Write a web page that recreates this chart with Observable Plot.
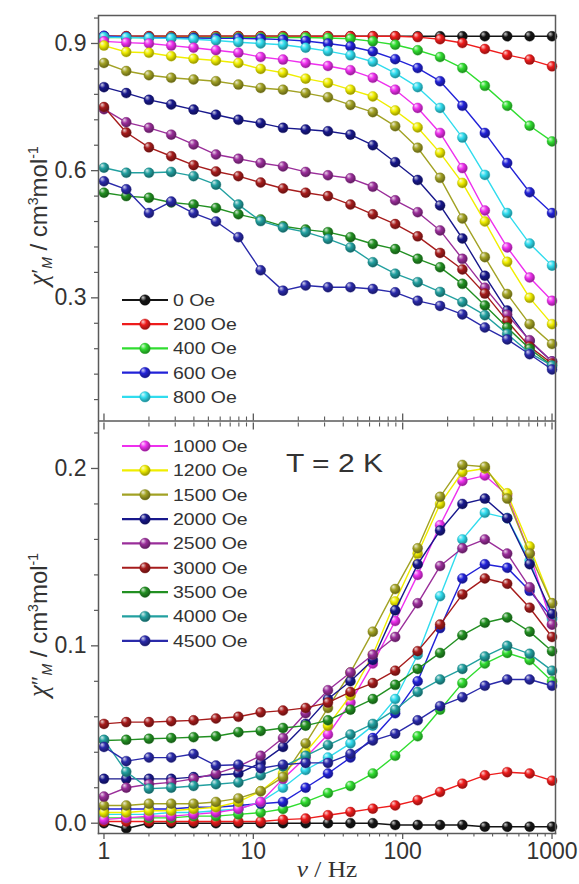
<!DOCTYPE html>
<html>
<head>
<meta charset="utf-8">
<script src="https://cdn.jsdelivr.net/npm/d3@7"></script>
<script src="https://cdn.jsdelivr.net/npm/@observablehq/plot@0.6"></script>
<style>
html,body{margin:0;padding:0;background:#fff;}
#chart{width:579px;height:884px;position:relative;}
#chart svg{display:block;}
</style>
</head>
<body>
<svg id="defs" width="0" height="0" style="position:absolute;left:0;top:0"></svg>
<div id="chart"></div>
<script>
// ---------- data ----------
const freq = [1, 1.41, 2.0, 2.82, 3.98, 5.62, 7.94, 11.2, 15.8, 22.4, 31.6, 44.7, 63.1, 89.1, 126, 178, 251, 355, 501, 708, 1000];
const fields = ["0 Oe", "200 Oe", "400 Oe", "600 Oe", "800 Oe", "1000 Oe", "1200 Oe", "1500 Oe", "2000 Oe", "2500 Oe", "3000 Oe", "3500 Oe", "4000 Oe", "4500 Oe"];
const colors = ["#151515", "#ee1c1c", "#30dd30", "#2222d8", "#30dcee", "#ee30ee", "#f0ee00", "#a2a224", "#18188c", "#9a2e9a", "#a61c1c", "#229022", "#22a0a0", "#2a2aaa"];

// chi' (top panel)
const re0    = [0.917,0.917,0.917,0.917,0.917,0.917,0.917,0.917,0.917,0.917,0.917,0.917,0.917,0.917,0.917,0.917,0.917,0.917,0.917,0.917,0.917];
const re200  = [0.917,0.917,0.917,0.917,0.917,0.917,0.917,0.917,0.917,0.917,0.917,0.917,0.917,0.917,0.915,0.910,0.901,0.887,0.873,0.862,0.846];
const re400  = [0.914,0.914,0.914,0.914,0.914,0.914,0.914,0.914,0.914,0.914,0.913,0.911,0.905,0.897,0.884,0.868,0.842,0.800,0.753,0.706,0.669];
const re600  = [0.918,0.915,0.914,0.913,0.913,0.912,0.912,0.911,0.909,0.906,0.900,0.893,0.881,0.863,0.842,0.811,0.753,0.689,0.618,0.549,0.500];
const re800  = [0.915,0.914,0.913,0.912,0.910,0.907,0.903,0.900,0.897,0.890,0.882,0.872,0.857,0.830,0.797,0.748,0.678,0.590,0.500,0.428,0.376];
const re1000 = [0.905,0.902,0.900,0.895,0.890,0.884,0.878,0.868,0.862,0.854,0.847,0.837,0.819,0.791,0.748,0.689,0.606,0.506,0.419,0.348,0.293];
const re1200 = [0.895,0.880,0.878,0.870,0.864,0.860,0.854,0.840,0.831,0.817,0.807,0.791,0.775,0.742,0.702,0.642,0.571,0.480,0.385,0.300,0.238];
const re1500 = [0.854,0.835,0.825,0.819,0.815,0.811,0.803,0.795,0.791,0.783,0.773,0.755,0.738,0.705,0.654,0.583,0.487,0.396,0.309,0.238,0.191];
const re2000 = [0.797,0.783,0.767,0.756,0.744,0.732,0.720,0.712,0.701,0.697,0.693,0.685,0.660,0.620,0.578,0.518,0.440,0.352,0.270,0.198,0.150];
const re2500 = [0.745,0.714,0.701,0.685,0.662,0.638,0.628,0.618,0.610,0.597,0.589,0.582,0.562,0.530,0.502,0.459,0.392,0.324,0.260,0.200,0.150];
const re3000 = [0.750,0.690,0.655,0.634,0.613,0.598,0.587,0.572,0.558,0.548,0.540,0.520,0.497,0.474,0.445,0.406,0.367,0.310,0.245,0.185,0.145];
const re3500 = [0.548,0.540,0.536,0.525,0.520,0.512,0.497,0.485,0.469,0.461,0.455,0.443,0.427,0.415,0.392,0.372,0.333,0.282,0.230,0.180,0.140];
const re4000 = [0.607,0.595,0.595,0.597,0.587,0.567,0.520,0.481,0.466,0.455,0.439,0.419,0.384,0.357,0.337,0.314,0.290,0.259,0.215,0.170,0.140];
const re4500 = [0.575,0.556,0.500,0.527,0.500,0.480,0.443,0.365,0.317,0.329,0.325,0.325,0.321,0.313,0.293,0.281,0.261,0.230,0.202,0.167,0.131];

// chi'' (bottom panel)
const im0    = [0.000,-0.003,0.000,0.000,0.000,0.000,0.000,0.000,0.000,0.000,0.000,0.000,0.000,-0.001,-0.001,-0.001,-0.001,-0.002,-0.002,-0.002,-0.002];
const im200  = [0.001,0.001,0.001,0.001,0.001,0.001,0.001,0.001,0.002,0.0026,0.0045,0.0063,0.0082,0.010,0.013,0.0176,0.0223,0.027,0.0288,0.028,0.024];
const im400  = [0.003,0.003,0.003,0.003,0.004,0.004,0.005,0.006,0.008,0.012,0.017,0.021,0.028,0.038,0.049,0.064,0.079,0.090,0.096,0.092,0.080];
const im600  = [0.008,0.008,0.008,0.008,0.009,0.009,0.010,0.011,0.012,0.020,0.028,0.037,0.048,0.062,0.080,0.110,0.138,0.146,0.144,0.131,0.116];
const im800  = [0.005,0.005,0.005,0.006,0.006,0.007,0.008,0.012,0.020,0.030,0.037,0.045,0.055,0.070,0.095,0.128,0.160,0.175,0.172,0.148,0.115];
const im1000 = [0.002,0.003,0.004,0.004,0.005,0.006,0.008,0.012,0.025,0.037,0.050,0.068,0.090,0.114,0.140,0.168,0.193,0.196,0.185,0.152,0.112];
const im1200 = [0.006,0.006,0.007,0.007,0.008,0.009,0.012,0.018,0.028,0.040,0.055,0.072,0.095,0.125,0.152,0.180,0.198,0.200,0.186,0.156,0.124];
const im1500 = [0.010,0.010,0.011,0.011,0.011,0.012,0.014,0.018,0.026,0.045,0.065,0.085,0.108,0.132,0.155,0.184,0.202,0.201,0.183,0.152,0.124];
const im2000 = [0.025,0.025,0.025,0.025,0.026,0.027,0.028,0.034,0.043,0.056,0.070,0.080,0.092,0.120,0.146,0.165,0.180,0.183,0.172,0.146,0.118];
const im2500 = [0.015,0.020,0.022,0.023,0.025,0.028,0.032,0.038,0.048,0.062,0.075,0.085,0.095,0.105,0.124,0.145,0.155,0.160,0.152,0.133,0.112];
const im3000 = [0.056,0.057,0.057,0.0575,0.058,0.059,0.060,0.0625,0.0635,0.065,0.068,0.074,0.079,0.086,0.097,0.112,0.129,0.138,0.135,0.1215,0.105];
const im3500 = [0.0466,0.047,0.0476,0.048,0.0485,0.049,0.0513,0.052,0.0537,0.055,0.058,0.064,0.070,0.078,0.087,0.096,0.106,0.113,0.116,0.108,0.097];
const im4000 = [0.047,0.029,0.0195,0.020,0.021,0.022,0.023,0.027,0.032,0.038,0.044,0.050,0.056,0.064,0.074,0.081,0.087,0.094,0.100,0.0955,0.086];
const im4500 = [0.043,0.035,0.037,0.037,0.039,0.0325,0.033,0.031,0.033,0.034,0.034,0.039,0.0466,0.0505,0.058,0.066,0.071,0.0775,0.081,0.081,0.0775];

// ticks
const topMajor = [0.3, 0.6, 0.9];
const topMinor = [0.06, 0.12, 0.18, 0.24, 0.36, 0.42, 0.48, 0.54, 0.66, 0.72, 0.78, 0.84, 0.96];
const botMajor = [0.0, 0.1, 0.2];
const botMinor = [0.02, 0.04, 0.06, 0.08, 0.12, 0.14, 0.16, 0.18, 0.22];
const xMajor = [1, 10, 100, 1000];
const xMinor = [2, 3, 4, 5, 6, 7, 8, 9, 20, 30, 40, 50, 60, 70, 80, 90, 200, 300, 400, 500, 600, 700, 800, 900];
const topLegend = [0, 1, 2, 3, 4];
const botLegend = [5, 6, 7, 8, 9, 10, 11, 12, 13];

// ---------- style ----------
const FONT = '"Liberation Sans", Arial, sans-serif';
const SERIF = '"Liberation Serif", "Times New Roman", serif';
const AXIS = "#5a5a5a";
const TEXT = "#333";
const SX = 1.18;

const reSets = [re0, re200, re400, re600, re800, re1000, re1200, re1500, re2000, re2500, re3000, re3500, re4000, re4500];
const imSets = [im0, im200, im400, im600, im800, im1000, im1200, im1500, im2000, im2500, im3000, im3500, im4000, im4500];

// sphere-like gradients
const defs = d3.select("#defs").append("defs");
colors.forEach((c, k) => {
  const g = defs.append("radialGradient").attr("id", `ball${k}`)
    .attr("cx", "42%").attr("cy", "38%").attr("r", "62%").attr("fx", "30%").attr("fy", "26%");
  g.append("stop").attr("offset", "0%").attr("stop-color", d3.interpolateRgb(c, "#fff")(0.8));
  g.append("stop").attr("offset", "45%").attr("stop-color", c);
  g.append("stop").attr("offset", "100%").attr("stop-color", d3.color(c).darker(1.4).formatHex());
});

function seriesMarks(sets) {
  return sets.flatMap((vals, k) => {
    const data = freq.map((f, i) => ({f, v: vals[i]}));
    return [
      Plot.line(data, {x: "f", y: "v", stroke: colors[k], strokeWidth: 1.4}),
      Plot.dot(data, {x: "f", y: "v", r: 5, fill: `url(#ball${k})`, stroke: d3.color(colors[k]).darker(0.6).formatHex(), strokeWidth: 0.4})
    ];
  });
}

const xScale = {type: "log", domain: [0.919, 1055]};
const baseStyle = {fontFamily: FONT, fontSize: "23px", color: TEXT, background: "transparent", overflow: "visible"};

const topPlot = Plot.plot({
  width: 579, height: 421,
  marginTop: 15, marginRight: 24, marginBottom: 0.5, marginLeft: 98,
  style: baseStyle,
  x: xScale,
  y: {domain: [0.0095, 0.966]},
  marks: [
    ...seriesMarks(reSets),
    Plot.axisY(topMajor, {anchor: "left", tickSize: 7, tickPadding: 5, tickFormat: d3.format(".1f"), stroke: AXIS, fill: TEXT, strokeWidth: 1.3, label: null}),
    Plot.axisY(topMinor, {anchor: "left", tickSize: 4, fill: "none", stroke: AXIS, strokeWidth: 1.2, label: null}),
    Plot.axisX(xMajor, {anchor: "bottom", tickSize: -7, fill: "none", stroke: AXIS, strokeWidth: 1.3, label: null}),
    Plot.axisX(xMinor, {anchor: "bottom", tickSize: -4, fill: "none", stroke: AXIS, strokeWidth: 1.1, label: null}),
    Plot.frame({stroke: AXIS, strokeWidth: 1.5})
  ]
});

const botPlot = Plot.plot({
  width: 579, height: 463,
  marginTop: 0.5, marginRight: 24, marginBottom: 51, marginLeft: 98,
  style: baseStyle,
  x: xScale,
  y: {domain: [-0.0058, 0.2262]},
  marks: [
    ...seriesMarks(imSets),
    Plot.axisY(botMajor, {anchor: "left", tickSize: 7, tickPadding: 5, tickFormat: d3.format(".1f"), stroke: AXIS, fill: TEXT, strokeWidth: 1.3, label: null}),
    Plot.axisY(botMinor, {anchor: "left", tickSize: 4, fill: "none", stroke: AXIS, strokeWidth: 1.2, label: null}),
    Plot.axisX(xMajor, {anchor: "top", tickSize: -7, fill: "none", stroke: AXIS, strokeWidth: 1.3, label: null}),
    Plot.axisX(xMinor, {anchor: "top", tickSize: -4, fill: "none", stroke: AXIS, strokeWidth: 1.1, label: null}),
    Plot.axisX(xMajor, {anchor: "bottom", tickSize: 6, tickPadding: 3, tickFormat: d => String(d), stroke: AXIS, fill: TEXT, strokeWidth: 1.3, label: null}),
    Plot.axisX(xMinor, {anchor: "bottom", tickSize: 3.5, fill: "none", stroke: AXIS, strokeWidth: 1.1, label: null}),
    Plot.frame({anchor: "left", stroke: AXIS, strokeWidth: 1.5}),
    Plot.frame({anchor: "right", stroke: AXIS, strokeWidth: 1.5}),
    Plot.frame({anchor: "bottom", stroke: AXIS, strokeWidth: 1.5})
  ]
});

function legend(svg, ks, y0, step) {
  const g = d3.select(svg).append("g").attr("text-anchor", "start");
  ks.forEach((k, j) => {
    const y = y0 + step * j;
    g.append("line").attr("x1", 122).attr("x2", 168).attr("y1", y).attr("y2", y)
      .attr("stroke", colors[k]).attr("stroke-width", 2.2);
    g.append("circle").attr("cx", 145).attr("cy", y).attr("r", 5.3)
      .attr("fill", `url(#ball${k})`).attr("stroke", d3.color(colors[k]).darker(0.6).formatHex()).attr("stroke-width", 0.4);
    g.append("text").attr("transform", `translate(173,${y}) scale(${SX},1)`)
      .attr("text-anchor", "start")
      .attr("dy", "0.36em").attr("font-family", FONT).attr("font-size", 16.5).attr("fill", TEXT)
      .text(fields[k]);
  });
}

function yLabel(svg, cx, cy, prime) {
  const t = d3.select(svg).append("text")
    .attr("transform", `translate(${cx},${cy}) rotate(-90)`)
    .attr("text-anchor", "middle").attr("font-family", FONT).attr("font-size", 24).attr("fill", TEXT);
  t.append("tspan").attr("font-family", SERIF).attr("font-style", "italic").attr("font-size", 27).text("χ");
  t.append("tspan").attr("font-family", SERIF).attr("font-size", 23).text(prime);
  t.append("tspan").attr("font-style", "italic").attr("font-size", 14).attr("dy", 5).text("M");
  t.append("tspan").attr("dy", -5).text(" / cm");
  t.append("tspan").attr("font-size", 14).attr("dy", -9).text("3");
  t.append("tspan").attr("dy", 9).text("mol");
  t.append("tspan").attr("font-size", 14).attr("dy", -9).text("-1");
}

legend(topPlot, topLegend, 300, 24.2);
legend(botPlot, botLegend, 446 - 421, 24.35);
yLabel(topPlot, 47, 216, "′");
yLabel(botPlot, 47, 625 - 421, "″");

d3.select(botPlot).append("text")
  .attr("transform", `translate(286,${472 - 421}) scale(1.2,1)`)
  .attr("text-anchor", "start")
  .attr("font-family", FONT).attr("font-size", 25).attr("fill", TEXT)
  .text("T = 2 K");

const xl = d3.select(botPlot).append("text")
  .attr("transform", `translate(327,${877 - 421}) scale(1.1,1)`)
  .attr("text-anchor", "middle").attr("font-family", SERIF).attr("font-size", 23).attr("fill", TEXT);
xl.append("tspan").attr("font-style", "italic").text("ν");
xl.append("tspan").text(" / Hz");

const chart = document.getElementById("chart");
chart.appendChild(topPlot);
chart.appendChild(botPlot);
</script>
</body>
</html>
